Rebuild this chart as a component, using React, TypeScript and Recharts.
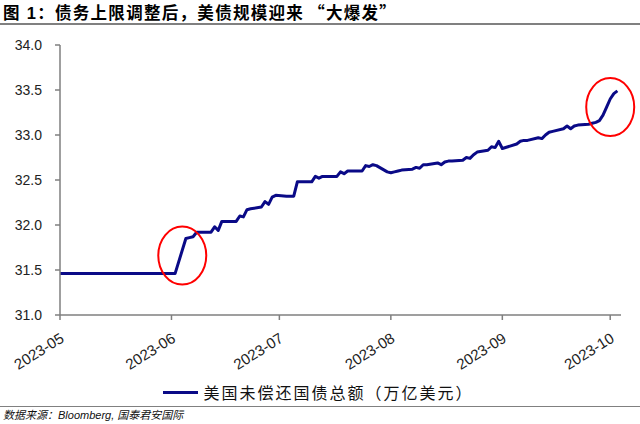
import { LineChart, Line, XAxis, YAxis, Legend, ReferenceDot } from 'recharts';

// US outstanding public debt, trillion USD
const dates = [
  '2023-05-01', '2023-05-08', '2023-05-15', '2023-05-22', '2023-05-30', '2023-06-02',
  '2023-06-05', '2023-06-06', '2023-06-07', '2023-06-08', '2023-06-09', '2023-06-12',
  '2023-06-13', '2023-06-14', '2023-06-15', '2023-06-16', '2023-06-19', '2023-06-20',
  '2023-06-21', '2023-06-22', '2023-06-23', '2023-06-26', '2023-06-27', '2023-06-28',
  '2023-06-29', '2023-06-30', '2023-07-03', '2023-07-05', '2023-07-06', '2023-07-07',
  '2023-07-10', '2023-07-11', '2023-07-12', '2023-07-13', '2023-07-14', '2023-07-17',
  '2023-07-18', '2023-07-19', '2023-07-20', '2023-07-21', '2023-07-24', '2023-07-25',
  '2023-07-26', '2023-07-27', '2023-07-28', '2023-07-31', '2023-08-01', '2023-08-02',
  '2023-08-03', '2023-08-04', '2023-08-07', '2023-08-08', '2023-08-09', '2023-08-10',
  '2023-08-11', '2023-08-14', '2023-08-15', '2023-08-16', '2023-08-17', '2023-08-18',
  '2023-08-21', '2023-08-22', '2023-08-23', '2023-08-24', '2023-08-25', '2023-08-28',
  '2023-08-29', '2023-08-30', '2023-08-31', '2023-09-01', '2023-09-05', '2023-09-06',
  '2023-09-07', '2023-09-08', '2023-09-11', '2023-09-12', '2023-09-13', '2023-09-14',
  '2023-09-15', '2023-09-18', '2023-09-19', '2023-09-20', '2023-09-21', '2023-09-22',
  '2023-09-25', '2023-09-26', '2023-09-27', '2023-09-28', '2023-09-29', '2023-09-30',
  '2023-10-01', '2023-10-02', '2023-10-03',
];
const debt = [
  31.46, 31.46, 31.46, 31.46, 31.46, 31.46,
  31.85, 31.86, 31.87, 31.92, 31.92, 31.92,
  31.98, 31.94, 32.04, 32.04, 32.04, 32.10,
  32.09, 32.17, 32.18, 32.20, 32.26, 32.23,
  32.31, 32.33, 32.32, 32.32, 32.48, 32.48,
  32.48, 32.54, 32.52, 32.54, 32.54, 32.54,
  32.59, 32.57, 32.60, 32.60, 32.60, 32.66,
  32.65, 32.67, 32.66, 32.59, 32.58, 32.59,
  32.60, 32.61, 32.62, 32.64, 32.63, 32.67,
  32.67, 32.69, 32.67, 32.70, 32.71, 32.71,
  32.72, 32.75, 32.74, 32.78, 32.81, 32.83,
  32.87, 32.86, 32.93, 32.85, 32.90, 32.93,
  32.94, 32.94, 32.97, 32.96, 33.00, 33.03,
  33.04, 33.07, 33.10, 33.07, 33.10, 33.11,
  33.12, 33.13, 33.14, 33.16, 33.22, 33.31,
  33.40, 33.46, 33.49,
];

const monthTicks = ['2023-05-01', '2023-06-01', '2023-07-01', '2023-08-01', '2023-09-01', '2023-10-01'];
const yTicks = [31.0, 31.5, 32.0, 32.5, 33.0, 33.5, 34.0];
const axisStart = '2023-05-01';
const axisEnd = '2023-10-04';

// highlighted areas (red circles): debt-ceiling jump and the latest surge
const calloutDates = ['2023-06-04', '2023-10-01'];
const calloutValues = [31.66, 33.31];

const seriesName = '美国未偿还国债总额（万亿美元）';
const titleHead = '图 1：债务上限调整后，美债规模迎来';
const titleQuote = '“大爆发”';
const source = '数据来源：Bloomberg, 国泰君安国际';

const LINE = '#0a0a87';
const AXIS = '#7f7f7f';
const SANS = "'Liberation Sans', Arial, 'Noto Sans CJK SC', sans-serif";
const CJK = "'Noto Sans CJK SC', sans-serif";

const toTime = (d: string) => Date.parse(d + 'T00:00:00Z');

const data = dates.map((d, i) => ({ t: toTime(d), debt: debt[i] }));

const fmtMonth = (t: number) => {
  const d = new Date(t);
  return `${d.getUTCFullYear()}-${String(d.getUTCMonth() + 1).padStart(2, '0')}`;
};

const MonthTick = (props: any) => {
  const { x, y, payload } = props;
  return (
    <text
      x={0}
      y={0}
      textAnchor="end"
      fill="#222"
      fontSize={15}
      fontFamily={SANS}
      transform={`translate(${x + 5},${y + 19}) rotate(-32)`}
    >
      {fmtMonth(payload.value)}
    </text>
  );
};

const Ellipse = (props: any) => (
  <ellipse cx={props.cx} cy={props.cy} rx={24} ry={29} fill="none" stroke="#ff0000" strokeWidth={2} />
);

const renderLegend = () => (
  <div style={{ display: 'flex', justifyContent: 'center', alignItems: 'center', height: 24, paddingLeft: 16 }}>
    <span style={{ display: 'inline-block', width: 35, height: 3, background: LINE }} />
    <span style={{ marginLeft: 5, fontSize: 16, letterSpacing: 2, fontFamily: CJK, color: '#111' }}>
      {seriesName}
    </span>
  </div>
);

export default function App() {
  return (
    <div style={{ position: 'absolute', left: 0, top: 0, width: 640, height: 424, background: '#fff', overflow: 'hidden' }}>
      <div
        style={{
          position: 'absolute', left: 0, top: 0, width: 640, height: 25,
          borderBottom: '2px solid #808080', fontFamily: SANS, fontWeight: 700, fontSize: 16.5,
          letterSpacing: 1.3, lineHeight: '24px', paddingLeft: 3, boxSizing: 'border-box', color: '#000',
          whiteSpace: 'nowrap',
        }}
      >
        {titleHead}
        <span style={{ fontFamily: CJK, marginLeft: 4 }}>{titleQuote}</span>
      </div>
      <div style={{ position: 'absolute', left: 0, top: 0 }}>
        <LineChart width={640} height={400} data={data} margin={{ top: 45, right: 19, left: 0, bottom: 0 }}>
          <XAxis
            dataKey="t"
            type="number"
            scale="linear"
            domain={[toTime(axisStart), toTime(axisEnd)]}
            ticks={monthTicks.map(toTime)}
            tick={<MonthTick />}
            tickSize={5}
            height={61}
            stroke={AXIS}
            strokeWidth={1.5}
            interval={0}
            allowDataOverflow
          />
          <YAxis
            type="number"
            domain={[31, 34]}
            ticks={yTicks}
            tickFormatter={(v: number) => v.toFixed(1)}
            tick={{ fill: '#222', fontSize: 14, fontFamily: SANS }}
            tickSize={5}
            tickMargin={13}
            width={60}
            stroke={AXIS}
            strokeWidth={1.5}
            interval={0}
          />
          <Line
            type="linear"
            dataKey="debt"
            name={seriesName}
            stroke={LINE}
            strokeWidth={3}
            strokeLinejoin="round"
            dot={false}
            isAnimationActive={false}
          />
          {calloutDates.map((d, i) => (
            <ReferenceDot key={d} x={toTime(d)} y={calloutValues[i]} r={24} shape={<Ellipse />} ifOverflow="visible" />
          ))}
          <Legend verticalAlign="bottom" content={renderLegend} wrapperStyle={{ bottom: -4 }} />
        </LineChart>
      </div>
      <div
        style={{
          position: 'absolute', left: 0, top: 406, width: 640, borderTop: '1.5px solid #808080',
          fontFamily: SANS, fontStyle: 'italic', fontSize: 11, lineHeight: '17px', paddingLeft: 3,
          color: '#111', whiteSpace: 'nowrap',
        }}
      >
        {source}
      </div>
    </div>
  );
}
